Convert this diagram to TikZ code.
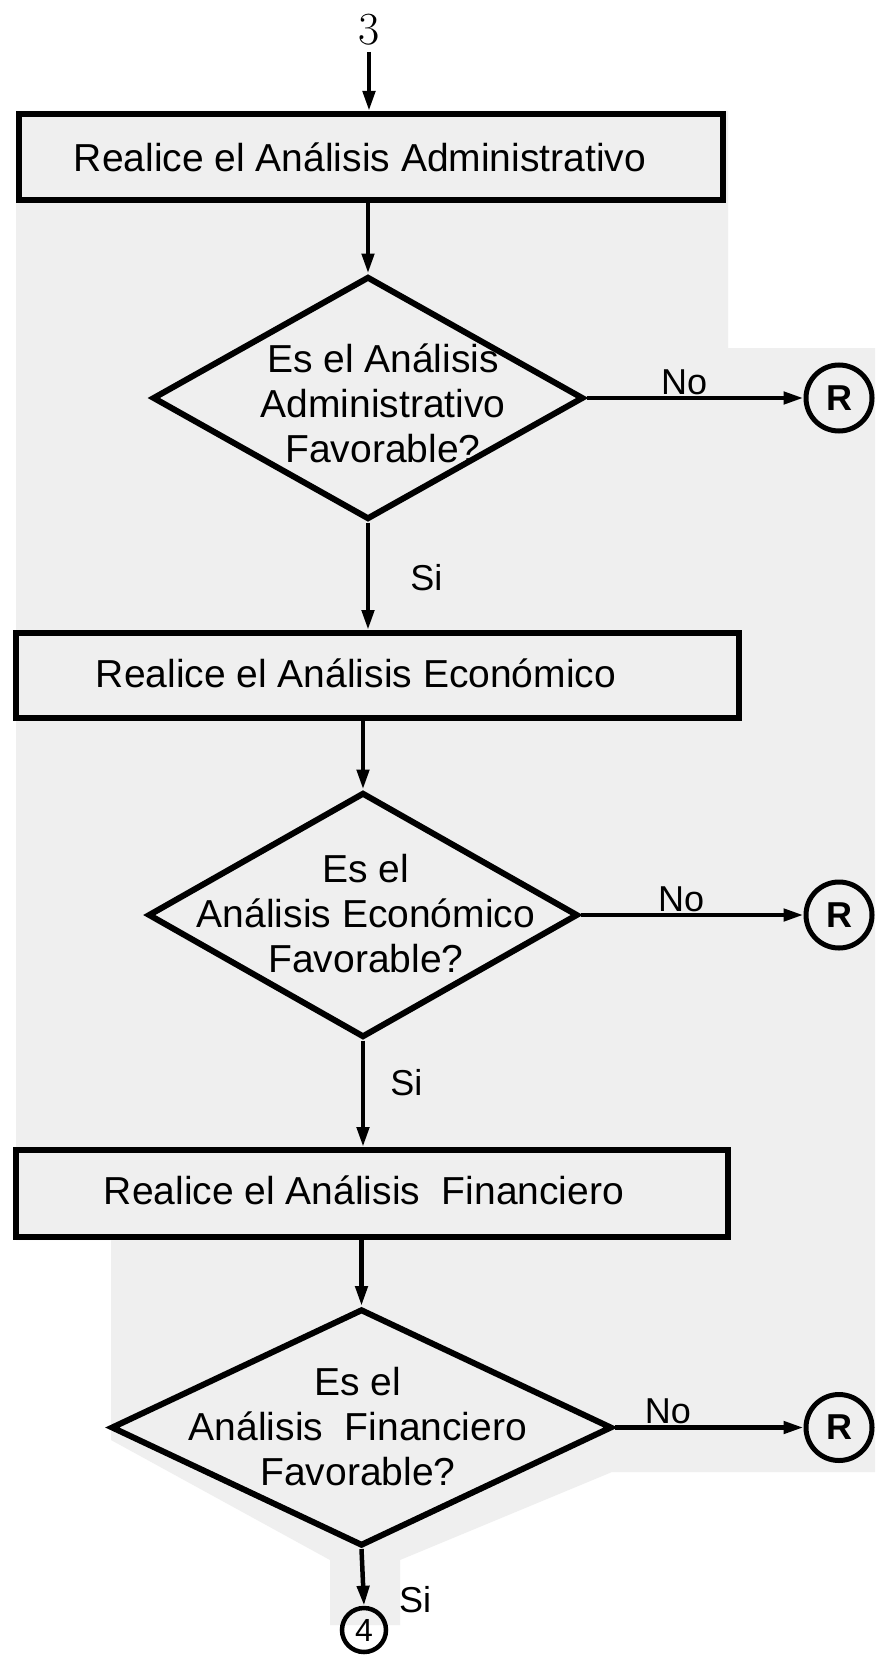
\documentclass[tikz,border=0pt]{standalone}
\usepackage{fontspec}
\newfontfamily\lsans{Liberation Sans}
\usetikzlibrary{arrows.meta,shapes.geometric}
\definecolor{bggray}{HTML}{EFEFEF}
\begin{document}
\begin{tikzpicture}[x=1pt,y=-1pt,
  box/.style={draw, line width=6pt, rectangle, inner sep=0pt},
  dia/.style={draw, line width=6pt, diamond, inner sep=0pt},
  txt/.style={font=\lsans\fontsize{39}{45}\selectfont, align=center, inner sep=0pt},
  lbl/.style={font=\lsans\fontsize{36}{40}\selectfont, inner sep=2pt},
  conn/.style={draw, line width=5pt, circle, inner sep=0pt, font=\lsans\bfseries\fontsize{36}{36}\selectfont},
  arr/.style={line width=4.5pt, -{Triangle[length=20pt,width=12pt]}},
  ]
\useasboundingbox (0,0) rectangle (875,1656);
\fill[white] (0,0) rectangle (875,1656);
\fill[bggray] (16,111) -- (728,111) -- (728,348) -- (875,348) -- (875,1472) -- (612,1472) -- (400,1560) -- (400,1625) -- (330,1625) -- (330,1560) -- (111,1440) -- (111,1240) -- (16,1240) -- cycle;

% top connector
\node[inner sep=6pt, font=\fontsize{46}{46}\selectfont] (n3) at (369,30) {3};

% block 1
\node[box, minimum width=704, minimum height=86] (b1) at (371,157) {};
\node[txt] (t1) at (360,157) {Realice el Análisis Administrativo};
\node[dia, minimum width=431, minimum height=243] (d1) at (368,398) {};
\node[txt] (t2) at (383,403) {Es el Análisis\\Administrativo\\Favorable?};
\node[conn, minimum size=66] (r1) at (839,398) {R};

% block 2
\node[box, minimum width=723, minimum height=85] (b2) at (377.5,675.5) {};
\node[txt] (t3) at (356,673) {Realice el Análisis Económico};
\node[dia, minimum width=430, minimum height=245] (d2) at (363,915) {};
\node[txt] (t4) at (366,914) {Es el\\Análisis Económico\\Favorable?};
\node[conn, minimum size=66] (r2) at (839,915) {R};

% block 3
\node[box, minimum width=712, minimum height=87] (b3) at (372,1193.5) {};
\node[txt] (t5) at (364,1190) {Realice el Análisis\ \ Financiero};
\node[dia, minimum width=501, minimum height=237] (d3) at (361.5,1427.5) {};
\node[txt] (t6) at (358,1427) {Es el\\Análisis\ \ Financiero\\Favorable?};
\node[conn, minimum size=66] (r3) at (839,1427.5) {R};
\node[conn, line width=4.5pt, minimum size=44, font=\lsans\fontsize{32}{32}\selectfont] (c4) at (364,1630) {4};

% connectors
\draw[arr] (n3.south) -- (n3.south |- b1.north);
\draw[arr] (b1.south -| d1.north) -- (d1.north);
\draw[arr] (d1.east) -- node[lbl, above, pos=.45, inner sep=1pt] {No} (r1.west);
\draw[arr] (d1.south) -- node[lbl, right, pos=.51, xshift=38pt] {Si} (d1.south |- b2.north);

\draw[arr] (b2.south -| d2.north) -- (d2.north);
\draw[arr] (d2.east) -- node[lbl, above, pos=.45, inner sep=1pt] {No} (r2.west);
\draw[arr] (d2.south) -- node[lbl, right, pos=.4, xshift=23pt] {Si} (d2.south |- b3.north);

\draw[arr] (b3.south -| d3.north) -- (d3.north);
\draw[arr] (d3.east) -- node[lbl, above, pos=.28, inner sep=1pt] {No} (r3.west);
\draw[arr] (d3.south) -- node[lbl, right, pos=.9, xshift=31pt] {Si} (c4.north);
\end{tikzpicture}
\end{document}
